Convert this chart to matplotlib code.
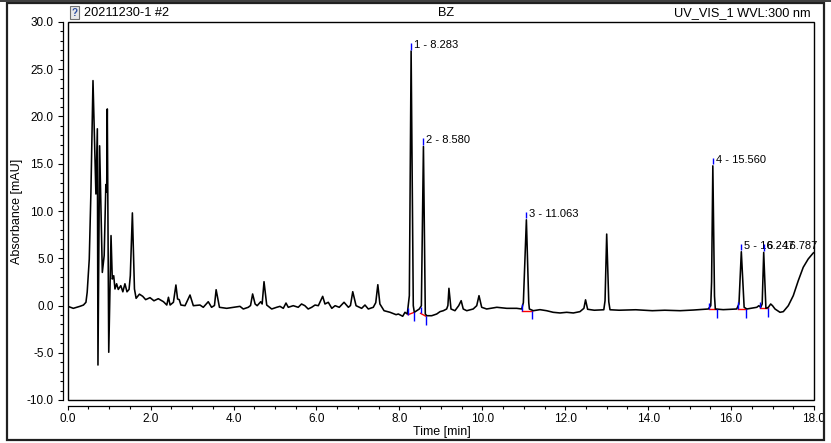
import numpy as np
import matplotlib.pyplot as plt
from matplotlib.patches import Rectangle
from matplotlib.ticker import MultipleLocator, FormatStrFormatter

plt.rcParams['font.family'] = ['Liberation Sans', 'DejaVu Sans']
plt.rcParams['axes.unicode_minus'] = False

# chromatogram trace (time [min], absorbance [mAU])
times = [
    0.00, 0.135, 0.30, 0.38, 0.44, 0.47, 0.52, 0.56, 0.61, 0.68, 0.715, 0.73, 0.77,
    0.835, 0.88, 0.92, 0.94, 0.955, 0.99, 1.045, 1.075, 1.11, 1.14, 1.18, 1.22, 1.28,
    1.33, 1.38, 1.43, 1.48, 1.51, 1.56, 1.61, 1.65, 1.73, 1.81, 1.88, 1.985, 2.08,
    2.185, 2.31, 2.39, 2.43, 2.47, 2.55, 2.61, 2.65, 2.69, 2.73, 2.83, 2.95, 3.03,
    3.19, 3.27, 3.39, 3.47, 3.54, 3.58, 3.66, 3.835, 3.995, 4.155, 4.235, 4.355, 4.41,
    4.46, 4.52, 4.57, 4.655, 4.69, 4.735, 4.80, 4.92, 5.04, 5.12, 5.20, 5.265, 5.32,
    5.44, 5.56, 5.64, 5.72, 5.80, 5.885, 5.965, 6.045, 6.15, 6.205, 6.285, 6.37, 6.45,
    6.55, 6.665, 6.77, 6.82, 6.875, 6.955, 7.09, 7.17, 7.25, 7.37, 7.43, 7.48, 7.53,
    7.63, 7.775, 7.92, 7.975, 8.08, 8.135, 8.19, 8.24, 8.283, 8.335, 8.36, 8.42, 8.48,
    8.53, 8.580, 8.625, 8.66, 8.78, 8.90, 8.98, 9.06, 9.14, 9.17, 9.195, 9.245, 9.34,
    9.43, 9.49, 9.54, 9.625, 9.78, 9.865, 9.92, 9.985, 10.105, 10.35, 10.59, 10.83,
    10.95, 10.99, 11.063, 11.12, 11.135, 11.23, 11.39, 11.55, 11.71, 11.875, 12.035,
    12.195, 12.355, 12.45, 12.49, 12.54, 12.70, 12.93, 12.96, 13.00, 13.05, 13.08,
    13.30, 13.70, 14.10, 14.40, 14.77, 15.09, 15.45, 15.51, 15.53, 15.56, 15.60, 15.62,
    15.81, 16.135, 16.19, 16.247, 16.315, 16.38, 16.62, 16.67, 16.715, 16.75, 16.787,
    16.84, 16.90, 16.955, 17.00, 17.06, 17.18, 17.26, 17.38, 17.50, 17.62, 17.74,
    17.86, 17.98, 18.0,
]
absorbance = [
    -0.08, -0.30, -0.08, 0.05, 0.34, 1.40, 4.9, 12.0, 23.8, 11.8, 18.7, -6.3, 16.9,
    3.5, 5.3, 12.8, 12.0, 20.8, -4.95, 7.4, 2.8, 3.15, 1.75, 2.3, 1.7, 2.1,
    1.45, 2.3, 1.45, 1.7, 3.15, 9.8, 1.75, 0.76, 1.2, 0.97, 0.62, 0.83, 0.5,
    0.72, 0.4, 0.05, 0.87, 0.05, 0.34, 2.17, 0.69, 0.62, 0.05, -0.02, 1.11, -0.02,
    0.05, -0.19, 0.4, -0.19, 0.0, 1.67, -0.19, -0.3, -0.19, -0.09, -0.37, -0.19, 0.0,
    1.22, 0.16, -0.02, 0.4, 0.16, 2.52, 0.05, -0.37, -0.19, -0.09, -0.3, 0.26, -0.19,
    -0.02, -0.19, 0.16, -0.02, -0.37, -0.19, 0.05, -0.02, 0.97, 0.16, 0.34, -0.3, -0.02,
    -0.19, 0.34, -0.19, 0.0, 1.46, -0.02, -0.3, 0.05, -0.37, -0.19, 0.3, 2.2, 0.16,
    -0.55, -0.72, -0.97, -0.9, -1.14, -0.72, -0.9, 1.04, 26.93, -0.02, -0.72, -0.55, -0.37,
    -0.02, 16.83, -0.9, -1.08, -1.08, -0.9, -0.65, -0.55, -0.37, 0.0, 1.82, -0.37, -0.55,
    -0.02, 0.51, -0.37, -0.55, -0.37, -0.02, 1.04, -0.19, -0.37, -0.19, -0.3, -0.3,
    -0.37, 0.3, 9.07, 0.3, -0.37, -0.55, -0.44, -0.55, -0.72, -0.79, -0.72,
    -0.79, -0.65, -0.3, 0.6, -0.4, -0.5, -0.45, 0.5, 7.56, 0.4, -0.45,
    -0.5, -0.45, -0.55, -0.5, -0.55, -0.48, -0.37, -0.02, 2.5, 14.78, 1.0, -0.37,
    -0.44, -0.37, 0.16, 5.69, -0.19, -0.37, -0.19, -0.02, -0.19, 0.16, 5.62,
    -0.3, -0.19, 0.16, -0.02, -0.37, -0.72, -0.65, -0.02, 1.04, 2.62, 4.04,
    4.92, 5.55, 5.6,
]

# integrated peaks
peak_no = [1, 2, 3, 4, 5, 6]
peak_rt = [8.283, 8.580, 11.063, 15.560, 16.247, 16.787]
base_start_t = [8.21, 8.51, 10.95, 15.47, 16.17, 16.705]
base_start_a = [-0.97, -0.83, -0.55, -0.40, -0.37, -0.30]
base_end_t = [8.36, 8.64, 11.21, 15.67, 16.36, 16.89]
base_end_a = [-0.72, -1.14, -0.55, -0.40, -0.37, -0.30]

W, H = 831, 443
fig = plt.figure(figsize=(W / 100, H / 100), dpi=100)
ax = fig.add_axes([67.7 / W, 1 - 400 / H, (814 - 67.7) / W, (400 - 22) / H])

ax.plot(times, absorbance, color='black', lw=1.15, zorder=3)

apex = np.interp(peak_rt, times, absorbance)
for i in range(len(peak_no)):
    ax.plot([base_start_t[i], base_end_t[i]], [base_start_a[i], base_end_a[i]],
            color='red', lw=1.0, zorder=2)
    ax.vlines(base_start_t[i], base_start_a[i], base_start_a[i] + 0.7, color='blue', lw=1.0, zorder=4)
    ax.vlines(base_end_t[i], base_end_a[i], base_end_a[i] - 0.9, color='blue', lw=1.0, zorder=4)
    ax.vlines(peak_rt[i], apex[i] + 0.15, apex[i] + 0.85, color='blue', lw=1.0, zorder=4)
    ax.annotate('%d - %.3f' % (peak_no[i], peak_rt[i]), xy=(peak_rt[i], apex[i]),
                xytext=(3, 6), textcoords='offset pixels', fontsize=8, va='center', ha='left')

ax.set_xlim(0, 18)
ax.set_ylim(-10, 30)
ax.xaxis.set_major_locator(MultipleLocator(2))
ax.xaxis.set_minor_locator(MultipleLocator(0.5))
ax.yaxis.set_major_locator(MultipleLocator(5))
ax.yaxis.set_minor_locator(MultipleLocator(1))
ax.xaxis.set_major_formatter(FormatStrFormatter('%.1f'))
ax.yaxis.set_major_formatter(FormatStrFormatter('%.1f'))
ax.tick_params(axis='y', which='major', direction='out', length=3.6, width=0.8, labelsize=8.5, pad=3)
ax.tick_params(axis='y', which='minor', direction='out', length=2.2, width=0.8)
ax.tick_params(axis='x', which='major', direction='out', length=2.9, width=0.8, labelsize=8.5, pad=2)
ax.tick_params(axis='x', which='minor', direction='out', length=1.8, width=0.8)

for side in ['top', 'right']:
    ax.spines[side].set_visible(False)
ax.spines['left'].set_position(('outward', 3.6))
ax.spines['bottom'].set_position(('outward', 4.3))
ax.spines['left'].set_linewidth(0.9)
ax.spines['bottom'].set_linewidth(0.9)
ax.add_patch(Rectangle((0, 0), 1, 1, transform=ax.transAxes, fill=False,
                       lw=1.0, edgecolor='black', clip_on=False, zorder=5))

fig.text(17 / W, 1 - 211.7 / H, 'Absorbance [mAU]', rotation=90, ha='center', va='center', fontsize=9)
fig.text(441.5 / W, 1 - 432 / H, 'Time [min]', ha='center', va='center', fontsize=9)

# header line
fig.text(84.5 / W, 1 - 12.7 / H, '20211230-1 #2', ha='left', va='center', fontsize=9.2)
fig.text(446 / W, 1 - 12.7 / H, 'BZ', ha='center', va='center', fontsize=9.2)
fig.text(810.7 / W, 1 - 12.7 / H, 'UV_VIS_1 WVL:300 nm', ha='right', va='center', fontsize=9.2)
fig.patches.append(Rectangle((70 / W, 1 - 19 / H), 9 / W, 13 / H, transform=fig.transFigure,
                             facecolor='#e8e8e8', edgecolor='#707070', lw=0.8))
fig.text(74.5 / W, 1 - 12.5 / H, '?', ha='center', va='center', fontsize=7, color='#3050a0',
         fontweight='bold')

# outer frame
fig.patches.append(Rectangle((7 / W, 1 - 440 / H), (824 - 7) / W, (440 - 3) / H,
                             transform=fig.transFigure, fill=False, edgecolor='#202020', lw=1.6))
fig.patches.append(Rectangle((0, 1 - 1.5 / H), 1, 1.5 / H, transform=fig.transFigure,
                             facecolor='#404040', edgecolor='none'))

fig.savefig('out.png', dpi=100)
